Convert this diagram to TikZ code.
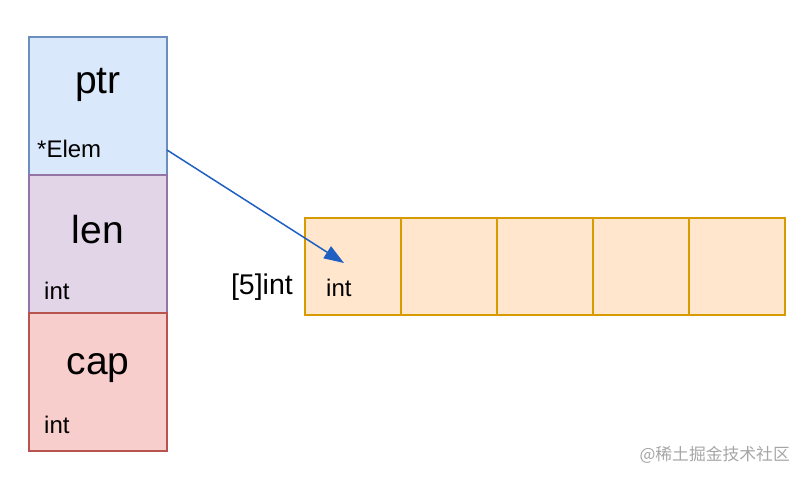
\documentclass[tikz,border=0pt]{standalone}
\usepackage{fontspec}
\setmainfont{Liberation Sans}
\newfontfamily\cjk{Noto Sans CJK SC}
\usetikzlibrary{arrows.meta}
\definecolor{bfill}{HTML}{DAE8FC}\definecolor{bdraw}{HTML}{6C8EBF}
\definecolor{pfill}{HTML}{E1D5E7}\definecolor{pdraw}{HTML}{9673A6}
\definecolor{rfill}{HTML}{F8CECC}\definecolor{rdraw}{HTML}{B85450}
\definecolor{ofill}{HTML}{FFE6CC}\definecolor{odraw}{HTML}{D79B00}
\definecolor{arr}{HTML}{1F5FC2}
\tikzset{
  field/.style={draw, line width=1.2pt, minimum width=138pt, minimum height=138pt, inner sep=0pt},
  cell/.style={draw=odraw, fill=ofill, line width=1.2pt, minimum width=96pt, minimum height=97pt, inner sep=0pt},
  big/.style={font=\fontsize{39}{41}\selectfont, anchor=base, inner sep=0pt},
  small/.style={font=\fontsize{24}{26}\selectfont, anchor=base west, inner sep=0pt},
}
\begin{document}
\begin{tikzpicture}[x=1pt,y=-1pt]
\useasboundingbox (0,0) rectangle (806,480);
\node[field, draw=bdraw, fill=bfill] (ptrbox) at (98,106) {};
\node[field, draw=pdraw, fill=pfill] (lenbox) at (98,244) {};
\node[field, draw=rdraw, fill=rfill] (capbox) at (98,382) {};
\node[big] (ptrt) at (98,93) {ptr};
\node[small] (ptrs) at (37,157) {*Elem};
\node[big] (lent) at (98,243) {len};
\node[small] (lens) at (44,299) {int};
\node[big] (capt) at (98,374) {cap};
\node[small] (caps) at (44,433) {int};
\foreach \i in {0,...,4} {
  \node[cell] (c\i) at (353+96*\i,266.5) {};
}
\node[small] (cint) at (326,296) {int};
\node[font=\fontsize{28.5}{30}\selectfont, anchor=base east, inner sep=0pt] (lab) at (293,294) {[5]int};
\coordinate (src) at (167,150);
\coordinate (dst) at (344,263);
\draw[arr, line width=1.5pt, -{Triangle[length=20pt,width=14pt]}] (src) -- (dst);
\node[font=\cjk\fontsize{16.8}{18}\selectfont, text=black!35, anchor=east, inner sep=0pt] (wm) at (790,455) {@稀土掘金技术社区};
\end{tikzpicture}
\end{document}
